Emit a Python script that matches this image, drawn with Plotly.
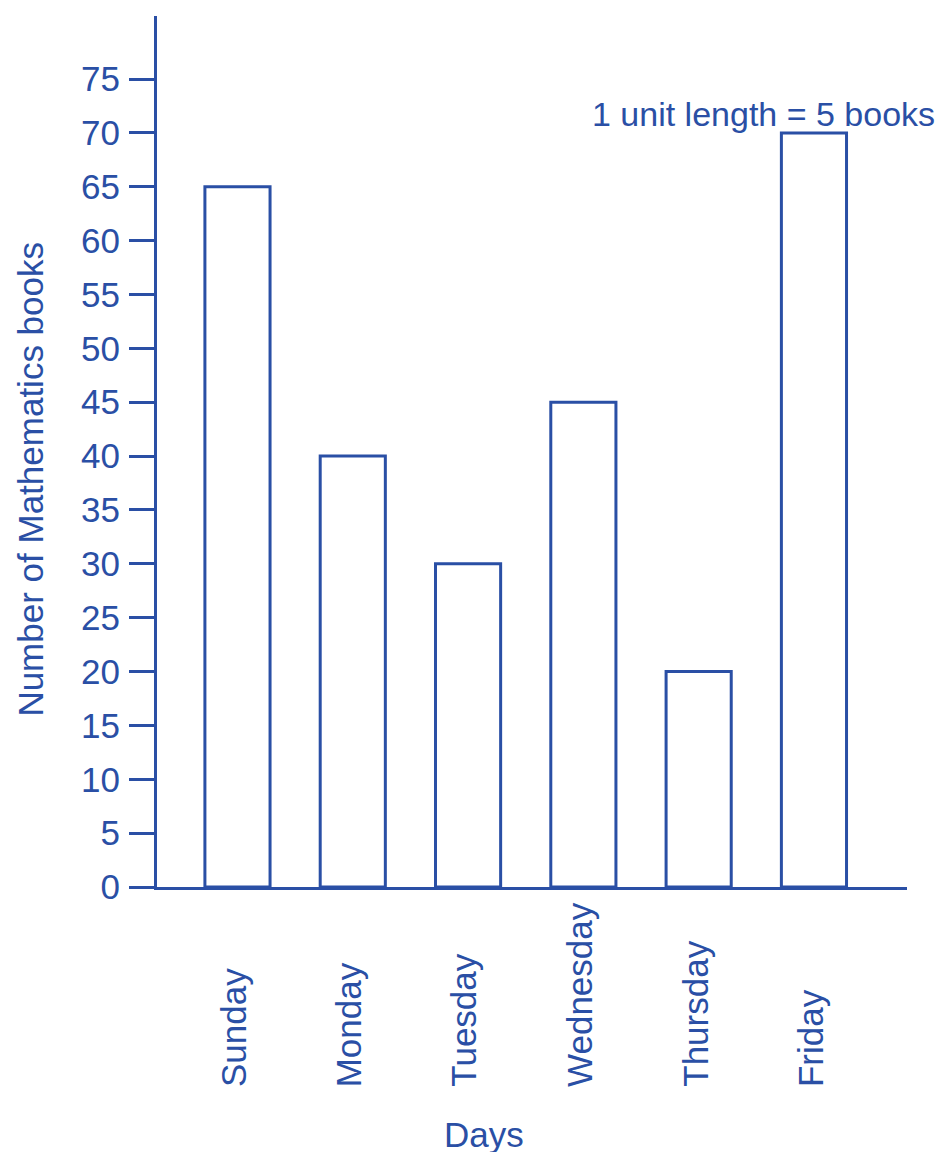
import plotly.graph_objects as go

# books sold per day
days = ["Sunday", "Monday", "Tuesday", "Wednesday", "Thursday", "Friday"]
books = [65, 40, 30, 45, 20, 70]
y_ticks = list(range(0, 80, 5))

blue = "#2a4fa5"
font = "Liberation Sans, Arial, sans-serif"
fsize = 35

fig = go.Figure(go.Bar(
    x=days, y=books, width=0.565,
    marker=dict(color="white", line=dict(color=blue, width=3)),
))

# day labels sit below the axis, bottom aligned
for d in days:
    fig.add_annotation(x=d, xref="x", y=-0.232, yref="paper", text=d, textangle=-90,
                       yanchor="bottom", xanchor="center", xshift=-4, showarrow=False,
                       font=dict(family=font, size=fsize, color=blue))

fig.add_annotation(x=0.436, xref="paper", y=-0.2836, yref="paper", text="Days",
                   xanchor="center", yanchor="middle", showarrow=False,
                   font=dict(family=font, size=fsize, color=blue))
fig.add_annotation(x=-0.169, xref="paper", y=0.468, yref="paper",
                   text="Number of Mathematics books", textangle=-90, showarrow=False,
                   xanchor="center", yanchor="middle",
                   font=dict(family=font, size=fsize, color=blue))
fig.add_annotation(x=0.577, xref="paper", y=71.8, yref="y", text="1 unit length = 5 books",
                   xanchor="left", yanchor="middle", showarrow=False,
                   font=dict(family=font, size=34, color=blue))

fig.update_xaxes(range=[-0.698, 5.807], showticklabels=False, showgrid=False,
                 showline=True, linecolor=blue, linewidth=3, ticks="", zeroline=False)
fig.update_yaxes(range=[0, 80.85], tickvals=y_ticks, showgrid=False, zeroline=False,
                 showline=True, linecolor=blue, linewidth=3, ticks="outside",
                 ticklen=25, tickwidth=3, tickcolor=blue, ticklabelstandoff=2,
                 tickfont=dict(family=font, size=fsize, color=blue))

fig.update_layout(width=950, height=1152, autosize=False, showlegend=False,
                  plot_bgcolor="white", paper_bgcolor="white",
                  margin=dict(l=149, r=51, t=8, b=273))

fig.write_html("out.html")
